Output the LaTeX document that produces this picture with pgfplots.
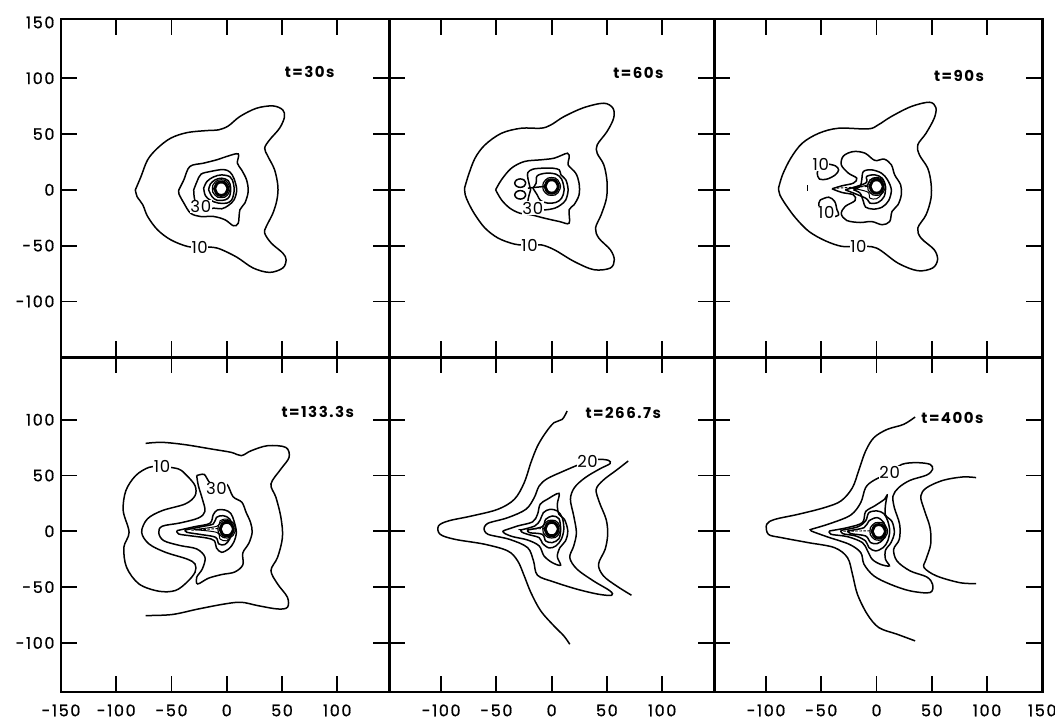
\documentclass[border=0pt]{standalone}
\usepackage{fontspec}
\usepackage{pgfplots}
\pgfplotsset{compat=1.18}
\newfontfamily\popfont{Poppins}[LetterSpace=10, FakeBold=0.8]
\newfontfamily\poplab{Poppins}[LetterSpace=4]
\newfontfamily\popbold{Poppins}[LetterSpace=10]
\newcommand\ticklab{\popfont\fontsize{16}{16}\selectfont}
\newcommand\clabfont{\poplab\fontsize{16.5}{16.5}\selectfont}
\newcommand\tfont{\popbold\bfseries\fontsize{15}{15}\selectfont}

\pgfplotsset{
  panel/.style={
    scale only axis, clip=false,
    axis line style={line width=2.8pt},
    xtick={-100,-50,0,50,100}, ytick={-100,-50,0,50,100},
    xtick pos=both, ytick pos=both,
    xticklabel pos=left, yticklabel pos=left,
    tick align=inside,
    major tick length=16pt,
    major tick style={line width=1.8pt, black},
    xticklabels={}, yticklabels={},
    tick label style={font=\ticklab},
    xticklabel style={yshift=-9pt},
    yticklabel style={xshift=-3pt},
    extra tick style={major tick length=0pt},
  },
  toprow/.style={panel, ymin=-150, ymax=153, height=338.1pt},
  botrow/.style={panel, ymin=-144, ymax=156, height=334.8pt},
  leftcol/.style={xmin=-150, xmax=147, width=328.2pt},
  midcol/.style={xmin=-147, xmax=147, width=324.9pt},
  rightcol/.style={xmin=-147, xmax=150, width=328.2pt},
  ylabs/.style={yticklabels={-100,-50,0,50,100}},
  c/.style={black, line width=1.5pt, smooth, tension=0.55},
  thin/.style={black, line width=1pt, smooth, tension=0.55},
  ring/.style={black, line width=1.2pt, smooth, tension=0.9},
  body/.style={black, line width=3pt, fill=white, smooth, tension=0.9},
  wake/.style={black, line width=0.9pt, dash pattern=on 2.5pt off 1.5pt},
}
\tikzset{
  clab/.style={fill=white, inner sep=0.6pt, font=\clabfont},
  tlab/.style={font=\tfont},
}

\begin{document}
\begin{tikzpicture}
\path[use as bounding box] (-61pt,-31pt) rectangle (994pt,692pt);

% ---------------- t = 30 s ----------------
\begin{axis}[toprow, leftcol, ylabs, extra y ticks={150}, extra y tick labels={150},
  at={(0pt,334.8pt)}, anchor=south west]
\addplot[c] coordinates {(-82.7,0) (-77.6,11.9) (-71.6,26.9) (-62.7,37.3) (-50.7,46.3) (-35.8,51.3) (-17.9,53.1) (-7.5,53.7) (1.5,57.3) (11.9,65.7) (26.9,73.1) (41.8,75.2) (50.7,71.6) (52.2,65.1) (47.8,55.2) (38.8,44.8) (34.3,37.3) (37.3,29.9) (43.3,17.9) (46.3,3) (45.4,-9) (41.8,-20.9) (35.8,-32.8) (34.3,-38.8) (40.3,-47.8) (50.7,-56.7) (53.7,-62.7) (50.7,-70.1) (38.8,-74) (23.9,-70.1) (9,-60.3) (-6,-53.1) (-14.9,-51.3) (-24.5,-51.5) (-35.8,-50.7) (-50.7,-44.8) (-62.7,-35.8) (-71.6,-23.9) (-76,-13.4) (-81.2,-6) (-82.7,0)};
\addplot[c] coordinates {(-43.3,0) (-38.8,9) (-33.4,20.9) (-20.9,23.9) (-9,26.9) (0,29.9) (10.4,32.2) (9.6,23.9) (13.4,17.9) (17.9,9) (19.4,-1.5) (16.4,-11.9) (11.9,-17.9) (10.4,-29.9) (6,-32.2) (-1.5,-26.9) (-11.9,-23.9) (-23.9,-23.9) (-32.8,-20.9) (-38.8,-11.9) (-43.3,-3.6) (-43.3,0)};
\addplot[c] coordinates {(-29.9,0) (-26.9,7.5) (-23.3,14) (-14.9,16.4) (-3,18.2) (3,15.8) (6.6,9.9) (9,0) (6.6,-9) (1.5,-14) (-4.5,-17) (-11.9,-16.4) (-19.4,-17.9) (-26.9,-13.4) (-29.3,-7.5) (-29.9,0)};
\addplot[c] coordinates {(-20.9,1.5) (-17.9,7.5) (-11.9,11.6) (-4.5,13.4) (3,11.6) (6,6) (6.6,-1.5) (4.5,-9) (0,-11.9) (-7.5,-11.9) (-14.9,-9.3) (-19.4,-5.1) (-20.9,1.5)};
\addplot[c] coordinates {(-16.4,0) (-14.9,5.1) (-10.4,9) (-4.5,10.4) (1.5,8.1) (3.6,1.5) (2.4,-6) (-1.5,-9) (-9,-9.3) (-13.4,-6) (-16.4,0)};
\addplot[ring] coordinates {(3,1) (0.7,6.7) (-5,9) (-10.7,6.7) (-13,1) (-10.7,-4.7) (-5,-7) (0.7,-4.7) (3,1)};
\addplot[body] coordinates {(1,1) (-0.8,5.2) (-5,7) (-9.2,5.2) (-11,1) (-9.2,-3.2) (-5,-5) (-0.8,-3.2) (1,1)};
\node[clab] at (axis cs:-24.5,-51.3) {10};
\node[clab] at (axis cs:-23.5,-15) {30};
\node[tlab] at (axis cs:75,106) {t=30s};
\end{axis}

% ---------------- t = 60 s ----------------
\begin{axis}[toprow, midcol, at={(328.2pt,334.8pt)}, anchor=south west]
\addplot[c] coordinates {(-78.8,1.5) (-75.2,13.4) (-69.3,28.4) (-60.3,40.3) (-45.4,50.7) (-27.5,55.2) (-9.6,55.2) (-0.6,58.2) (11.3,65.7) (29.3,73.7) (47.2,77.6) (55.5,73.1) (56.1,64.2) (50.1,52.2) (41.2,40.3) (41.2,32.8) (47.2,22.4) (50.1,7.5) (49.6,-7.5) (44.8,-22.4) (39.7,-34.3) (42.7,-43.3) (53.1,-53.7) (56.7,-62.7) (53.1,-70.1) (38.2,-71.6) (20.3,-64.2) (2.4,-53.7) (-9.6,-49.3) (-20,-49.6) (-33.4,-48.7) (-48.4,-43.3) (-60.3,-34.3) (-69.3,-22.4) (-75.2,-11.9) (-78.2,-4.5) (-78.8,1.5)};
\addplot[c] coordinates {(-50.7,0) (-45.4,9) (-36.4,19.4) (-24.5,25.4) (-9.6,26.9) (2.4,28.4) (14.3,32.8) (15.8,28.4) (14.9,22.4) (21.8,14.9) (24.8,6) (24.8,-4.5) (20.3,-13.4) (15.8,-17.9) (15.8,-29.9) (6.9,-28.4) (-6.6,-25.4) (-18.5,-22.4) (-28.9,-20.9) (-37.9,-16.4) (-45.4,-9) (-50.7,0)};
\addplot[c] coordinates {(-19,0) (-21.5,10.4) (-21.5,15.5) (-17,18.5) (-8.1,19.4) (0.9,19.4) (6.9,17.9) (8.4,13.4) (12.8,9) (14.9,0) (12.8,-9) (8.4,-13.4) (3,-16.4) (-5.1,-17.9) (-12,-17.5) (-18.5,-16) (-21.5,-10.4) (-19,0)};
\addplot[c] coordinates {(-17,1.5) (-14,6) (-13.1,12.5) (-5.1,14.9) (3.9,14) (9,9.6) (11.3,0) (9,-7.5) (3.9,-11.3) (-3.6,-11.9) (-10.1,-9.6) (-13.1,-4.5) (-17,1.5)};
\addplot[c] coordinates {(-23.4,6) (-24.9,8.7) (-28.4,9.8) (-31.9,8.7) (-33.4,6) (-31.9,3.3) (-28.4,2.2) (-24.9,3.3) (-23.4,6)};
\addplot[c] coordinates {(-23.4,-4.5) (-24.9,-1.8) (-28.4,-0.7) (-31.9,-1.8) (-33.4,-4.5) (-31.9,-7.2) (-28.4,-8.3) (-24.9,-7.2) (-23.4,-4.5)};
\addplot[c] coordinates {(-21.5,1.5) (-7,3)};
\addplot[ring] coordinates {(8,3) (5.7,8.7) (0,11) (-5.7,8.7) (-8,3) (-5.7,-2.7) (0,-5) (5.7,-2.7) (8,3)};
\addplot[body] coordinates {(6,3) (4.2,7.2) (0,9) (-4.2,7.2) (-6,3) (-4.2,-1.2) (0,-3) (4.2,-1.2) (6,3)};
\node[clab] at (axis cs:-20,-49.6) {10};
\node[clab] at (axis cs:-17,-16.4) {30};
\node[tlab] at (axis cs:78.5,105) {t=60s};
\end{axis}

% ---------------- t = 90 s ----------------
\begin{axis}[toprow, rightcol, at={(653.1pt,334.8pt)}, anchor=south west]
\addplot[c] coordinates {(-88.7,1.5) (-85.1,13.4) (-77.6,28.4) (-67.2,41.8) (-52.2,50.7) (-34.3,55.2) (-7.5,54.6) (1.5,58.2) (13.4,65.7) (31.3,74.6) (47.8,78.5) (53.7,73.7) (52.2,64.2) (44.8,50.7) (37.3,40.3) (38.8,31.3) (46.3,19.4) (49.3,6) (49.3,-7.5) (44.8,-22.4) (37.3,-34.3) (40.3,-43.3) (52.2,-53.7) (55.2,-62.7) (50.7,-70.1) (37.3,-72.5) (19.4,-65.7) (0,-52.2) (-16.4,-50.7) (-31.3,-50.7) (-46.3,-45.7) (-61.2,-37.3) (-73.1,-25.4) (-82.1,-13.4) (-87.5,-4.5) (-88.7,1.5)};
\addplot[c] coordinates {(-40.3,0.9) (-31.3,3.6) (-20.9,6) (-17.9,10.4) (-25.4,14.9) (-31.9,22.4) (-29.9,30.4) (-20.9,34.3) (-10.4,32.8) (-1.5,26.3) (6.9,27.5) (13.4,22.4) (16.4,13.4) (21.8,4.5) (22.4,-4.5) (19.4,-13.4) (14,-19.4) (11.9,-28.4) (5.1,-31.3) (-4.5,-28.4) (-14.9,-29.3) (-26.9,-27.5) (-31.9,-21.5) (-28.4,-14.9) (-19.4,-9.6) (-20.9,-4.5) (-31.3,-2.4) (-40.3,0.9)};
\addplot[c] coordinates {(-20.9,0) (-14.9,3) (-13.4,9) (-11.9,16.4) (-4.5,17.9) (4.5,14.9) (9.9,9) (13.4,0) (11,-9.6) (5.1,-15.5) (-3,-17.3) (-9.9,-15.5) (-11.9,-10.4) (-14.9,-3) (-20.9,0)};
\addplot[c] coordinates {(-28.4,0) (-9.9,6) (-9,11.9) (-1.5,13.4) (5.1,10.4) (8.1,3) (6.9,-6) (1.5,-11.3) (-6,-11.9) (-9.9,-7.5) (-28.4,0)};
\addplot[thin] coordinates {(-22,1.5) (-8,4.5) (-6,9) (0,10.5) (5,8) (6,2) (4.5,-4) (0,-8) (-6,-7.5) (-8,-2) (-22,1.5)};
\addplot[c] coordinates {(-44.8,23.3) (-37.3,21.5) (-34.3,17.9) (-37.3,13.4) (-44.8,9.6) (-51.6,9.6) (-53.7,14.9) (-51.6,19.4) (-44.8,23.3)};
\addplot[c] coordinates {(-50.7,-9) (-43.3,-6.6) (-37.9,-10.4) (-35.8,-17.9) (-34.3,-22.4) (-40.3,-24.5) (-47.8,-23.9) (-51.6,-17.9) (-52.2,-11.9) (-50.7,-9)};
\addplot[c] coordinates {(-62.7,-1) (-62.7,4)};
\addplot[wake] coordinates {(-36,1.5) (-8,3)};
\addplot[ring] coordinates {(8,3) (5.7,8.7) (0,11) (-5.7,8.7) (-8,3) (-5.7,-2.7) (0,-5) (5.7,-2.7) (8,3)};
\addplot[body] coordinates {(6,3) (4.2,7.2) (0,9) (-4.2,7.2) (-6,3) (-4.2,-1.2) (0,-3) (4.2,-1.2) (6,3)};
\node[clab] at (axis cs:-16.4,-50.7) {10};
\node[clab] at (axis cs:-50.5,23) {10};
\node[clab] at (axis cs:-45.5,-20.5) {10};
\node[tlab] at (axis cs:74.6,102.4) {t=90s};
\end{axis}

% ---------------- t = 133.3 s ----------------
\begin{axis}[botrow, leftcol, ylabs,
  xticklabels={-100,-50,0,50,100}, extra x ticks={-150}, extra x tick labels={-150},
  at={(0pt,0pt)}, anchor=south west]
\addplot[c] coordinates {(-73.4,78.8) (-58.5,79.7) (-37.6,77.6) (-13.7,73.7) (4.2,70.7) (13.1,67.8) (22.1,72.2) (37,76.7) (53.4,75.2) (56.4,66.3) (49,55.8) (40,42.4) (44.5,30.4) (49,12.5) (50.4,-5.4) (46,-23.3) (40,-35.2) (46,-47.2) (54.9,-59.1) (54.9,-68.1) (46,-69.6) (28.1,-66.6) (13.1,-63.6) (-1.8,-65.1) (-25.7,-69.6) (-49.6,-74.6) (-73.4,-75.5)};
\addplot[c] coordinates {(-58.5,58.2) (-70.4,57.3) (-82.4,49.9) (-91.3,36.4) (-93.7,18.5) (-88.4,-0.9) (-93.1,-14.3) (-90.7,-32.2) (-79.4,-47.2) (-61.5,-53.7) (-46.6,-53.1) (-36.1,-45.7) (-28.7,-36.7) (-28.7,-29.3) (-36.1,-24.8) (-55.5,-18.8) (-70.4,-11.3) (-77,-0.9) (-71.9,11) (-58.5,18.5) (-37.6,24.5) (-28.7,31.9) (-28.7,40.9) (-36.1,49.9) (-43.6,55.8) (-58.5,58.2)};
\addplot[c] coordinates {(-27.2,49.9) (-20.5,51) (-16.5,45) (-9.3,38) (-0.3,42.4) (5.7,31) (13.7,26) (17.5,17) (21.5,8) (23,-0.9) (20,-10.7) (14.5,-19.5) (14.6,-30) (7.2,-36.5) (-4.8,-38.8) (-16.7,-42.1) (-26.3,-47.2) (-27.2,-41.2) (-22.1,-33.7) (-19.7,-23.3) (-27.2,-15.8) (-42.1,-12.8) (-57,-8.4) (-61.5,-1.5) (-58.5,4.5) (-42.1,7.5) (-25.7,11.9) (-19.7,17.9) (-22.1,29) (-25.7,40.9) (-27.2,49.9)};
\addplot[c] coordinates {(-45.1,0.6) (-28.7,4.2) (-15.2,7.2) (-12.2,14.9) (-8.4,19.1) (-1.8,19.1) (3.6,16.1) (6.6,9) (8.7,-0.9) (6.3,-9.9) (1.8,-15.8) (-4.8,-18.8) (-9.3,-14.9) (-11.3,-8.4) (-18.2,-6) (-31.6,-4.2) (-43.6,-2.4) (-45.1,0.6)};
\addplot[c] coordinates {(-37.6,1.2) (-22.7,4.2) (-12.2,6.6) (-9.3,12.5) (-3.3,14) (2.7,11) (4.8,2.1) (2.7,-6.9) (-1.8,-11.9) (-7.2,-11.3) (-10.1,-5.4) (-22.7,-3) (-36.1,-0.9) (-37.6,1.2)};
\addplot[thin] coordinates {(-30,1.5) (-9,4.5) (-6,9.5) (0,11) (4,7) (4,-3) (0,-8.5) (-6,-7) (-9,-1) (-30,1.5)};
\addplot[wake] coordinates {(-32,1) (-7,2.5)};
\addplot[ring] coordinates {(8,2) (5.7,7.7) (0,10) (-5.7,7.7) (-8,2) (-5.7,-3.7) (0,-6) (5.7,-3.7) (8,2)};
\addplot[body] coordinates {(6,2) (4.2,6.2) (0,8) (-4.2,6.2) (-6,2) (-4.2,-2.2) (0,-4) (4.2,-2.2) (6,2)};
\node[clab] at (axis cs:-58.5,58.2) {10};
\node[clab] at (axis cs:-9.3,38) {30};
\node[tlab] at (axis cs:82.4,106.6) {t=133.3s};
\end{axis}

% ---------------- t = 266.7 s ----------------
\begin{axis}[botrow, midcol, xticklabels={-100,-50,0,50,100},
  at={(328.2pt,0pt)}, anchor=south west]
\addplot[c] coordinates {(14,107.8) (9.6,100.3) (2.1,97.3) (-5.4,88.4) (-12.8,76.4) (-18.8,61.5) (-24.8,43.6) (-33.7,28.7) (-48.7,19.7) (-72.5,13.7) (-93.4,9.3) (-102.4,4.8) (-100.9,-2.7) (-87.5,-7.2) (-60.6,-11.6) (-39.7,-17.6) (-30.7,-26.6) (-24.8,-40) (-18.8,-54.9) (-9.9,-71.3) (2.1,-84.8) (11,-93.7) (16.4,-101.2)};
\addplot[c] coordinates {(-61.2,2.4) (-57.6,7.2) (-39.7,12.2) (-23.3,19.7) (-15.8,30.1) (-11.3,40.6) (-3.9,47.2) (11,54) (23,59.1) (32.5,63) (42.4,64.5) (51.3,63.6) (52.8,60.6) (43.9,56.1) (30.4,48.1) (20.6,39.1) (17,28.7) (20,13.7) (22.4,-1.2) (20,-13.1) (16.4,-23.6) (23,-34) (37.9,-44.5) (52.8,-53.4) (54.3,-57.3) (42.4,-56.4) (23,-51.9) (2.1,-45.4) (-12.8,-39.4) (-16.4,-26.6) (-21.8,-14.6) (-38.2,-7.2) (-57.6,-2.7) (-61.2,2.4)};
\addplot[c] coordinates {(69.3,63) (58.8,54.9) (46.9,46) (40.3,37.6) (43.3,25.7) (49.3,10.7) (50.7,-2.7) (48.4,-16.1) (42.4,-29.6) (46.9,-40) (58.8,-49) (72.2,-57.3)};
\addplot[c] coordinates {(-44.2,0.3) (-30.7,4.8) (-17.3,8.4) (-12.8,15.2) (-10.4,24.2) (-3.9,28.7) (6.6,34) (5.1,24.2) (6.6,15.2) (11.6,10.7) (14.6,0.3) (12.5,-8.7) (7.5,-14.6) (5.1,-22.7) (8.1,-30.4) (0.6,-28.1) (-6.9,-22.1) (-11.3,-13.1) (-21.8,-7.8) (-35.2,-4.8) (-42.7,-1.8) (-44.2,0.3)};
\addplot[c] coordinates {(-27.8,1.2) (-15.2,4.8) (-10.4,10.1) (-7.5,16.7) (-1.5,19.7) (5.1,18.2) (9.6,12.2) (11,1.8) (8.7,-7.2) (3.9,-13.1) (-2.4,-14.9) (-8.4,-10.7) (-11.3,-5.7) (-21.8,-2.7) (-27.2,-0.6) (-27.8,1.2)};
\addplot[c] coordinates {(-21.8,1.2) (-8.4,4.2) (-5.4,10.7) (0.6,13.7) (6.6,11.3) (8.1,1.8) (6.6,-6.6) (0.6,-10.1) (-5.4,-8.7) (-8.4,-2.7) (-20.3,-1.2) (-21.8,1.2)};
\addplot[wake] coordinates {(-30,1.5) (-6,2.5)};
\addplot[ring] coordinates {(8,2) (5.7,7.7) (0,10) (-5.7,7.7) (-8,2) (-5.7,-3.7) (0,-6) (5.7,-3.7) (8,2)};
\addplot[body] coordinates {(6,2) (4.2,6.2) (0,8) (-4.2,6.2) (-6,2) (-4.2,-2.2) (0,-4) (4.2,-2.2) (6,2)};
\node[clab] at (axis cs:32.5,63) {20};
\node[tlab] at (axis cs:64.8,106.3) {t=266.7s};
\end{axis}

% ---------------- t = 400 s ----------------
\begin{axis}[botrow, rightcol, xticklabels={-100,-50,0,50,100},
  extra x ticks={150}, extra x tick labels={150},
  at={(653.1pt,0pt)}, anchor=south west]
\addplot[c] coordinates {(34.9,102.4) (24.5,95.8) (9.6,91.3) (-2.4,83.9) (-9.9,71.9) (-15.8,55.5) (-21.8,39.1) (-32.2,27.2) (-47.2,21.2) (-71,15.2) (-91.9,10.7) (-99.4,6.3) (-97.9,-2.7) (-86,-5.7) (-62.1,-10.1) (-38.2,-14.6) (-26.3,-23.6) (-21.8,-38.5) (-17.3,-56.4) (-8.4,-74.3) (2.1,-86.3) (18.5,-92.2) (34.9,-98.2)};
\addplot[c] coordinates {(-59.1,1.8) (-41.2,7.2) (-23.3,14.6) (-14.3,25.7) (-9.9,39.1) (-2.4,45.7) (11.9,52.5) (23,60) (36.4,61.5) (48.4,60) (50.7,55.5) (45.4,50.4) (30.4,45.7) (20,39.1) (14.9,31.6) (16.1,21.2) (20.9,6.3) (20.6,-7.2) (15.5,-16.1) (18.5,-26.6) (30.4,-35.5) (45.4,-40.9) (50.7,-47.5) (48.4,-54.9) (30.4,-53.4) (12.5,-47.5) (-2.4,-40) (-11.3,-29.6) (-14.3,-19.1) (-24.8,-11.6) (-44.2,-5.1) (-59.1,0.3) (-59.1,1.8)};
\addplot[c] coordinates {(90.1,48.1) (78.2,48.7) (60.3,45.7) (45.4,39.1) (40,31.6) (43,19.7) (48.4,3.3) (49,-11.6) (44.8,-25.1) (43,-32.5) (54.3,-40) (75.2,-46) (90.1,-46.9)};
\addplot[c] coordinates {(-42.7,0.3) (-26.3,3.3) (-12.8,7.8) (-9.9,17.6) (-1.8,22.7) (7.2,28.7) (9.6,32.5) (8.1,23.6) (8.1,14.6) (14,8.7) (16.1,-1.2) (13.1,-10.1) (8.1,-17) (8.1,-25.1) (11.6,-31) (3.6,-29.6) (-3.9,-25.1) (-8.4,-17) (-12.8,-10.1) (-26.3,-4.8) (-41.2,-2.7) (-42.7,0.3)};
\addplot[c] coordinates {(-32.2,0.9) (-17.3,3.9) (-9.9,9.3) (-6.9,16.7) (0.6,18.2) (6.6,15.8) (10.1,9.3) (11.9,0.3) (10.1,-8.7) (6,-14.6) (-0.9,-17.6) (-6.9,-14.6) (-9.9,-8.7) (-18.8,-4.2) (-30.7,-2.1) (-32.2,0.9)};
\addplot[c] coordinates {(-26.3,0.3) (-11.3,3.3) (-6.9,9.3) (0.6,12.2) (6.6,7.8) (8.1,0.3) (6,-7.2) (0.6,-11) (-5.4,-10.1) (-9.9,-4.2) (-23.3,-2.1) (-26.3,0.3)};
\addplot[wake] coordinates {(-30,0) (-4,0.5)};
\addplot[ring] coordinates {(10,0) (7.7,5.7) (2,8) (-3.7,5.7) (-6,0) (-3.7,-5.7) (2,-8) (7.7,-5.7) (10,0)};
\addplot[body] coordinates {(8,0) (6.2,4.2) (2,6) (-2.2,4.2) (-4,0) (-2.2,-4.2) (2,-6) (6.2,-4.2) (8,0)};
\node[clab] at (axis cs:11.9,52.5) {20};
\node[tlab] at (axis cs:68.7,101.8) {t=400s};
\end{axis}
\end{tikzpicture}
\end{document}
